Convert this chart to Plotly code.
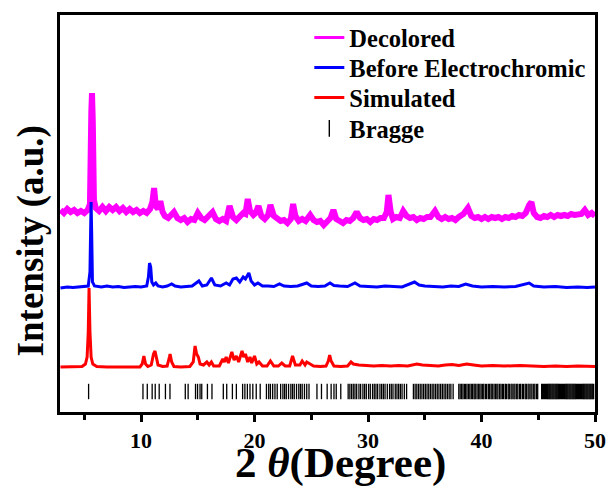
import plotly.graph_objects as go

# ---- data (2theta in degrees, intensity in arbitrary units, offsets included) ----
dec_x = [2.9, 3.2, 3.5, 3.8, 4.1, 4.4, 4.7, 5.0, 5.3, 5.5, 5.62, 5.68, 5.75, 5.85, 6.0, 6.3, 6.6, 6.9, 7.2, 7.5,
         7.8, 8.1, 8.4, 8.7, 9.0, 9.3, 9.6, 9.9, 10.2, 10.5, 10.8, 11.0, 11.15, 11.3, 11.5, 11.7, 11.9, 12.1, 12.4, 12.7,
         12.9, 13.2, 13.5, 13.8, 14.1, 14.4, 14.7, 15.0, 15.3, 15.6, 15.9, 16.3, 16.6, 16.9, 17.2, 17.5, 17.8, 18.1, 18.4, 18.7,
         19.0, 19.2, 19.4, 19.6, 19.9, 20.1, 20.35, 20.6, 20.9, 21.2, 21.4, 21.7, 22.0, 22.3, 22.6, 22.9, 23.2, 23.4, 23.6, 23.9,
         24.2, 24.5, 24.9, 25.2, 25.5, 25.8, 26.1, 26.4, 26.7, 26.95, 27.2, 27.5, 27.8, 28.1, 28.4, 28.7, 29.0, 29.3, 29.6, 29.9,
         30.2, 30.5, 30.8, 31.1, 31.4, 31.65, 31.8, 32.0, 32.2, 32.5, 32.8, 33.1, 33.4, 33.7, 34.0, 34.3, 34.6, 34.9, 35.2, 35.5,
         35.9, 36.2, 36.5, 36.8, 37.1, 37.4, 37.7, 38.0, 38.4, 38.8, 39.1, 39.4, 39.7, 40.0, 40.3, 40.6, 40.9, 41.2, 41.5, 41.8,
         42.1, 42.4, 42.7, 43.0, 43.3, 43.6, 43.9, 44.2, 44.4, 44.6, 44.9, 45.2, 45.5, 45.8, 46.1, 46.4, 46.7, 47.0, 47.3, 47.6,
         47.9, 48.2, 48.5, 48.8, 49.1, 49.4, 49.7, 50.0]
dec_y = [202, 199, 203, 200, 202, 199, 201, 199, 202, 208, 300, 319, 290, 212, 204, 201, 205, 201, 205, 202,
         205, 201, 204, 200, 203, 200, 202, 199, 201, 199, 203, 210, 224, 206, 203, 211, 200, 196, 194, 197,
         200, 194, 192, 194, 190, 193, 192, 199, 194, 192, 195, 200, 193, 191, 193, 191, 206, 195, 192, 195,
         199, 198, 213, 201, 197, 199, 206, 196, 193, 197, 207, 196, 193, 191, 192, 189, 193, 208, 196, 191,
         193, 191, 197, 192, 190, 191, 187, 190, 194, 202, 193, 191, 189, 192, 191, 194, 200, 194, 192, 193,
         190, 193, 192, 194, 194, 200, 217, 200, 193, 195, 194, 201, 196, 194, 195, 192, 194, 193, 195, 195,
         201, 195, 193, 195, 193, 194, 192, 195, 198, 204, 196, 194, 195, 193, 195, 193, 195, 194, 195, 193,
         195, 194, 196, 195, 197, 196, 199, 207, 210, 199, 195, 194, 196, 195, 197, 195, 197, 196, 197, 196,
         198, 197, 198, 198, 202, 197, 199, 196]

bef_x = [2.9, 3.5, 4.0, 4.5, 5.0, 5.35, 5.5, 5.57, 5.6, 5.65, 5.72, 5.9, 6.5, 7.0, 7.5, 8.0, 8.5, 9.0, 9.5, 10.0,
         10.5, 10.65, 10.75, 10.85, 10.95, 11.1, 11.3, 11.5, 11.9, 12.3, 12.7, 13.0, 13.5, 14.0, 14.5, 15.1, 15.4, 15.8, 16.2, 16.5,
         17.0, 17.5, 17.8, 18.1, 18.4, 18.7, 19.0, 19.2, 19.5, 19.7, 20.0, 20.3, 20.7, 21.2, 21.7, 22.2, 22.6, 23.2, 23.8, 24.6,
         25.0, 25.6, 26.2, 26.65, 27.0, 27.5, 28.2, 28.85, 29.3, 30.0, 30.8, 31.5, 32.3, 33.0, 34.1, 34.5, 35.0, 35.8, 36.6, 37.3,
         38.0, 38.6, 39.2, 40.0, 41.0, 42.0, 43.0, 44.2, 44.6, 45.5, 46.5, 47.5, 48.5, 49.3, 50.0]
bef_y = [124, 125, 124.5, 125, 125, 126, 140, 205, 210, 180, 130, 126, 125, 126, 125, 125.5, 124.5, 125, 125.5, 125,
         126, 135, 149, 145, 130, 127, 129, 126, 125, 126, 128, 126, 125, 125.5, 126, 131, 126, 127, 134, 127,
         126, 129, 127, 133, 134, 130, 135, 133, 139, 131, 127, 129, 126, 126, 125.5, 128, 126, 125.5, 126, 129,
         126, 125.5, 126, 129, 126.5, 126, 125.5, 129, 126, 125.5, 125, 126, 125.5, 125, 130, 127, 126, 125.5, 125, 126,
         125.5, 128, 126, 125, 125.5, 125, 125.5, 129, 126, 125, 125.5, 124.5, 125, 124.5, 125]

sim_x = [2.9, 4.0, 4.8, 5.1, 5.25, 5.35, 5.42, 5.5, 5.6, 5.75, 6.1, 7.0, 8.0, 9.0, 9.9, 10.1, 10.25, 10.4, 10.6, 10.9,
         11.1, 11.23, 11.35, 11.5, 11.9, 12.3, 12.5, 12.56, 12.7, 12.9, 13.5, 14.3, 14.6, 14.76, 14.9, 15.05, 15.2, 15.5, 15.8, 16.0,
         16.2, 16.4, 16.9, 17.2, 17.35, 17.5, 17.7, 18.0, 18.2, 18.4, 18.6, 18.9, 19.05, 19.2, 19.4, 19.6, 19.75, 20.0, 20.2, 20.4,
         20.7, 21.1, 21.4, 21.7, 22.1, 22.4, 22.7, 23.1, 23.35, 23.6, 24.0, 24.2, 24.45, 24.6, 24.9, 25.2, 25.8, 26.3, 26.5, 26.62,
         26.75, 27.0, 27.6, 28.2, 28.5, 28.7, 29.2, 29.8, 30.5, 31.2, 32.0, 32.7, 33.5, 34.3, 34.8, 35.5, 36.2, 36.8, 37.4, 38.0,
         38.7, 39.3, 40.0, 41.0, 42.0, 43.4, 44.5, 45.5, 46.5, 47.5, 48.5, 49.5, 50.0]
sim_y = [45, 45, 45.5, 48, 55, 80, 124, 80, 55, 48, 45.5, 45, 45, 45, 45, 48, 56, 48, 45.5, 47,
         58, 61, 56, 47, 45.5, 46, 55, 58, 50, 45.5, 45, 45.5, 50, 66, 58, 55, 48, 47, 50, 47,
         50, 46, 46, 53, 50, 55, 49, 60, 52, 56, 50, 61, 55, 58, 50, 55, 49, 56, 48, 50,
         46, 46, 51, 46, 46, 49, 46, 46, 56, 47, 47, 51, 47, 50, 48, 46, 45.5, 46, 51, 57,
         51, 46, 45.5, 46, 50, 48, 47, 46.5, 46, 46.5, 46, 46.5, 46, 48, 47, 46.5, 46, 47, 47.5, 46.5,
         48, 47, 46, 46.5, 46, 46.5, 46, 45.5, 46, 45.5, 46, 45.5, 45.5]

bragg_x = [5.38,
           10.17, 10.55, 10.98, 11.25, 11.6, 12.15, 12.55,
           13.9, 14.15, 14.8, 14.98, 15.2, 15.35, 15.85, 16.25,
           17.25, 17.55, 18.05, 18.4, 18.95, 19.15, 19.37, 19.6, 19.85, 20.15, 20.5,
           21.05, 21.25, 21.4, 21.6, 21.8, 22.0, 22.3, 22.5, 22.65, 22.8, 23.0, 23.2, 23.35, 23.5, 23.7,
           23.9, 24.05, 24.2, 24.4, 24.6, 24.8, 25.5, 25.9, 26.4,
           26.75, 27.0, 27.2, 27.6, 28.25, 28.4, 28.55, 28.7, 28.85, 29.0, 29.2, 29.35, 29.55, 29.7, 29.85,
           30.05, 30.2, 30.4, 30.55, 30.7, 30.85, 31.05, 31.2, 31.35, 31.5, 31.7, 31.9, 32.05, 32.2, 32.4,
           32.55, 32.7, 32.85, 33.0, 33.2, 33.4,
           34.0, 34.15, 34.3, 34.45, 34.6, 34.75, 34.9, 35.05, 35.2, 35.35, 35.5, 35.65, 35.8, 35.95, 36.1,
           36.25, 36.4, 36.55, 36.7, 36.85, 37.0, 37.15, 37.3, 37.5,
           38.0, 38.12, 38.25, 38.37, 38.5, 38.6, 38.72, 38.85, 38.97, 39.1, 39.22, 39.35, 39.45, 39.6, 39.72,
           39.85, 39.97, 40.1, 40.2, 40.35, 40.45, 40.6, 40.72, 40.85, 40.95, 41.1, 41.22, 41.35, 41.45, 41.6,
           41.72, 41.85, 41.95, 42.1, 42.2, 42.35, 42.45, 42.6, 42.7, 42.85, 42.95, 43.1, 43.2, 43.35, 43.45,
           43.6, 43.7, 43.85, 43.95, 44.1, 44.2, 44.35, 44.45, 44.6, 44.7, 44.85, 44.95,
           45.3, 45.38, 45.47, 45.55, 45.63, 45.72, 45.8, 45.88, 45.97, 46.05, 46.13, 46.22, 46.3, 46.38, 46.47,
           46.55, 46.63, 46.72, 46.8, 46.88, 46.97, 47.05, 47.13, 47.22, 47.3, 47.38, 47.47, 47.55, 47.63, 47.72,
           47.8, 47.88, 47.97, 48.05, 48.13, 48.22, 48.3, 48.38, 48.47, 48.55, 48.63, 48.72, 48.8, 48.88, 48.97,
           49.05, 49.13, 49.22, 49.3, 49.38, 49.47, 49.55, 49.63, 49.72, 49.8, 49.88]
bragg_level = 20.5

x_tick_vals = [10, 20, 30, 40, 50]

series_names = ["Decolored", "Before Electrochromic", "Simulated", "Bragge"]
colors = {"Decolored": "#FF00FF", "Before Electrochromic": "#0000FF", "Simulated": "#FF0000", "Bragge": "#000000"}

FONT = "Liberation Serif"

fig = go.Figure()

# plotted marks (no legend)
fig.add_trace(go.Scatter(x=bragg_x, y=[bragg_level] * len(bragg_x), mode="markers",
                         marker=dict(symbol="line-ns-open", size=11, color="black",
                                     line=dict(width=1.3, color="black")),
                         showlegend=False, hoverinfo="x"))
fig.add_trace(go.Scatter(x=sim_x, y=sim_y, mode="lines", line=dict(color=colors["Simulated"], width=3),
                         showlegend=False))
fig.add_trace(go.Scatter(x=dec_x, y=dec_y, mode="lines", line=dict(color=colors["Decolored"], width=6),
                         showlegend=False))
fig.add_trace(go.Scatter(x=bef_x, y=bef_y, mode="lines", line=dict(color=colors["Before Electrochromic"], width=3),
                         showlegend=False))

# legend entries, one legend box per row so rows sit at the reference spacing
legend_ids = ["legend", "legend2", "legend3", "legend4"]
for name, lid in zip(series_names[:3], legend_ids[:3]):
    fig.add_trace(go.Scatter(x=[None], y=[None], mode="lines", name=name, legend=lid,
                             line=dict(color=colors[name], width=3)))
fig.add_trace(go.Scatter(x=[None], y=[None], mode="markers", name="Bragge", legend=legend_ids[3],
                         marker=dict(symbol="line-ns-open", size=12, color="black",
                                     line=dict(width=1.4, color="black"))))

legend_font = dict(family=FONT, size=24.5, weight="bold", color="black")
legend_rows_y = [1.0, 0.9244, 0.8489, 0.7708]
legend_layout = {}
for lid, ly in zip(legend_ids, legend_rows_y):
    legend_layout[lid] = dict(x=0.466, y=ly, xanchor="left", yanchor="top",
                              bgcolor="rgba(0,0,0,0)", borderwidth=0,
                              font=legend_font, itemwidth=30)

fig.update_layout(
    width=609, height=489,
    margin=dict(l=60, r=14, t=15, b=77),
    paper_bgcolor="white", plot_bgcolor="white",
    font=dict(family=FONT, color="black"),
    showlegend=True,
    xaxis=dict(range=[2.86, 50], tickvals=x_tick_vals, ticks="outside", ticklen=7, tickwidth=2.5,
               tickcolor="black", showline=True, linewidth=2.5, linecolor="black", mirror=True,
               showgrid=False, zeroline=False, automargin=False,
               tickfont=dict(family=FONT, size=22, weight="bold", color="black"),
               minor=dict(dtick=5, tick0=0, ticks="outside", ticklen=5, tickwidth=2.5, tickcolor="black")),
    yaxis=dict(range=[0, 397], showticklabels=False, ticks="", showline=True, linewidth=2.5,
               linecolor="black", mirror=True, showgrid=False, zeroline=False, automargin=False),
    annotations=[
        dict(text="Intensity (a.u.)", xref="paper", yref="paper", x=-0.054, y=0.43,
             xanchor="center", yanchor="middle", textangle=-90, showarrow=False,
             font=dict(family=FONT, size=37, weight="bold", color="black")),
        dict(text="2 <i>θ</i>(Degree)", xref="paper", yref="paper", x=0.5234, y=-0.194,
             xanchor="center", yanchor="bottom", showarrow=False,
             font=dict(family=FONT, size=43, weight="bold", color="black")),
    ],
    **legend_layout,
)

fig.write_html("out.html", config={"displayModeBar": False},
               post_script="document.body.style.margin='0';")
